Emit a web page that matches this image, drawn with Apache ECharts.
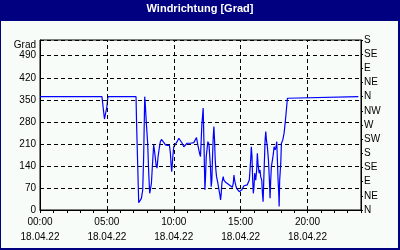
<!DOCTYPE html>
<html><head><meta charset="utf-8">
<script src="https://cdn.jsdelivr.net/npm/echarts@6/dist/echarts.min.js"></script>
<style>
html,body{margin:0;padding:0;background:#fff;}
#frame{position:absolute;left:0;top:0;width:400px;height:250px;box-sizing:border-box;background:#f8fcf8;border-style:solid;border-color:#000080;border-width:21px 2px 2px 1px;}
#chart{position:absolute;left:0;top:0;width:400px;height:250px;}
</style></head><body>
<div id="frame"></div><div id="chart"></div>
<script>
const chartTitle = 'Windrichtung [Grad]';
const dateLabel = '18.04.22';
const leftAxisName = 'Grad';
// time of day in hours
const times = [0,4.63,4.82,5.0,5.08,7.18,7.22,7.38,7.58,7.68,7.75,7.83,7.88,7.95,8.05,8.13,8.2,8.25,8.33,8.4,8.5,8.57,8.68,8.75,8.83,8.93,9.0,9.08,9.15,9.25,9.38,9.53,9.68,9.75,9.8,9.85,9.93,10.0,10.13,10.25,10.38,10.5,10.63,10.75,10.88,11.0,11.13,11.25,11.38,11.5,11.63,11.7,11.8,11.93,12.0,12.1,12.2,12.25,12.33,12.38,12.43,12.55,12.63,12.7,12.75,12.8,12.85,12.9,12.95,13.0,13.05,13.1,13.15,13.2,13.3,13.38,13.45,13.5,13.55,13.6,13.7,13.75,13.88,14.0,14.13,14.25,14.38,14.45,14.5,14.55,14.63,14.7,14.75,14.83,14.9,14.95,15.0,15.08,15.15,15.25,15.38,15.5,15.58,15.65,15.7,15.75,15.8,15.85,15.9,15.95,16.0,16.05,16.13,16.2,16.25,16.3,16.38,16.45,16.5,16.58,16.63,16.68,16.73,16.78,16.83,16.88,16.93,17.0,17.08,17.15,17.2,17.25,17.3,17.38,17.45,17.5,17.58,17.65,17.7,17.75,17.8,17.85,17.88,17.92,18.0,18.05,18.1,18.15,18.2,18.25,18.33,18.4,18.5,18.55,23.8];
// wind direction in degrees
const directions = [360,360,289,328,360,360,276,23,37,64,170,360,330,276,212,117,53,64,85,138,207,185,143,133,170,200,217,224,228,215,207,205,205,180,145,122,170,201,201,217,228,222,212,201,207,212,214,212,217,214,220,230,207,180,170,270,324,230,64,110,170,217,210,165,130,74,95,170,230,265,222,160,127,106,85,64,48,32,53,85,106,95,88,83,80,74,72,85,111,95,79,69,64,69,58,64,53,64,69,77,80,80,85,95,127,159,201,170,95,53,74,117,95,127,180,148,117,127,106,95,53,26,95,159,222,249,222,201,159,95,37,95,138,159,180,201,191,201,217,159,95,53,11,95,148,212,217,222,222,244,276,308,355,360,360];
const compassLabels = ['N','NE','E','SE','S','SW','W','NW','N','NE','E','SE','S'];
const gridHours = [5,10,15,20];

const FONT = 'Liberation Sans';
const data = times.map((t,i)=>[t, directions[i]]);
const pad = v => String(v).padStart(2,'0');

const chart = echarts.init(document.getElementById('chart'), null, {renderer:'canvas'});
chart.setOption({
  animation:false,
  backgroundColor:'transparent',
  title:{text:chartTitle,left:'center',top:3,padding:0,
    textStyle:{color:'#fff',fontSize:11,fontWeight:'bold',fontFamily:FONT,lineHeight:12}},
  grid:{left:40,right:39,top:40,bottom:40,show:true,borderColor:'#000',borderWidth:1,
    backgroundColor:'transparent',outerBoundsMode:'none'},
  xAxis:{type:'value',min:0,max:24,interval:1,
    axisLine:{show:true,lineStyle:{color:'#000',width:1}},
    axisTick:{show:true,length:3,lineStyle:{color:'#000'}},
    splitLine:{show:false},
    axisLabel:{margin:5,color:'#000',fontSize:10,fontFamily:FONT,lineHeight:15,
      showMinLabel:true,showMaxLabel:true,
      formatter:v=> (v%5===0 && v<24) ? pad(v)+':00\n'+dateLabel : ''}},
  yAxis:[
    {type:'value',min:0,max:540,interval:70,position:'left',
     name:leftAxisName,nameLocation:'end',nameGap:-5,
     nameTextStyle:{align:'right',verticalAlign:'middle',padding:[0,4,0,0],color:'#000',fontSize:10,fontFamily:FONT},
     axisLine:{show:true,lineStyle:{color:'#000'}},
     axisTick:{show:false},
     axisLabel:{margin:4,color:'#000',fontSize:10,fontFamily:FONT,formatter:v=> v>=540?'':String(v)},
     splitLine:{show:true,lineStyle:{color:'#000',width:1,type:[4,3]}}},
    {type:'value',min:0,max:540,interval:45,position:'right',
     axisLine:{show:true,lineStyle:{color:'#000'}},
     axisTick:{show:true,length:2,lineStyle:{color:'#000'}},
     axisLabel:{margin:3,color:'#000',fontSize:10,fontFamily:FONT,formatter:v=>compassLabels[Math.round(v/45)]},
     splitLine:{show:false}}
  ],
  series:[{type:'line',data:data,symbol:'none',yAxisIndex:0,
    lineStyle:{color:'#0000ff',width:1.2},
    markLine:{silent:true,symbol:'none',label:{show:false},animation:false,
      lineStyle:{color:'#000',width:1,type:[4,3]},
      emphasis:{disabled:true},
      data:gridHours.map(h=>({xAxis:h}))}}]
});
</script>
</body></html>
